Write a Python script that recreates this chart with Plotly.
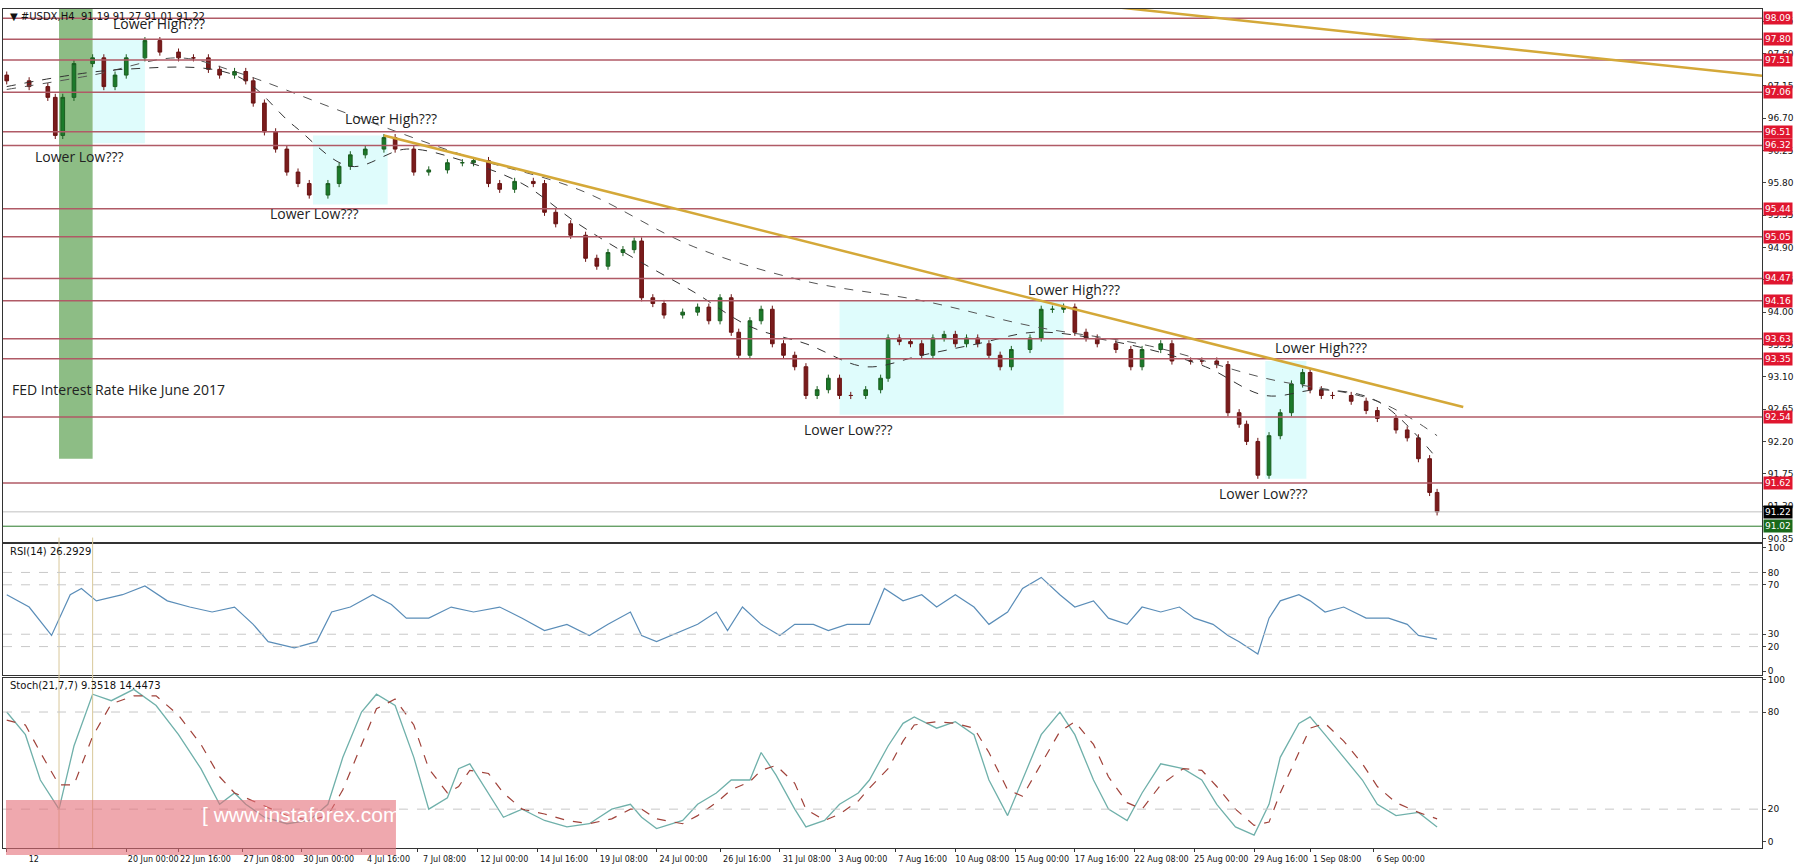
import plotly.graph_objects as go
from plotly.subplots import make_subplots

# ---- price closes (bar index, close) ----
bars = [0,6,11,13,15,18,23,26,29,32,37,41,46,50,54,57,61,64,66,69,72,75,78,81,86,89,92,96,101,104,109,113,118,122,125,129,132,136,141,144,147,151,155,158,161,165,168,170,173,176,181,185,188,191,194,196,199,202,205,208,211,214,217,220,223,226,230,234,236,239,242,245,248,251,254,257,260,263,266,269,274,277,280,283,286,289,292,297,301,304,309,312,317,320,324,327,330,332,335,338,341,344,347,349,352,355,360,364,367,372,375,378,381,383]
closes = [97.22,97.14,96.99,96.46,96.99,97.46,97.54,97.14,97.30,97.54,97.78,97.62,97.54,97.54,97.38,97.30,97.35,97.22,96.91,96.51,96.27,95.95,95.79,95.63,95.79,96.03,96.19,96.27,96.43,96.27,95.95,95.98,96.08,96.08,96.11,95.79,95.71,95.82,95.79,95.39,95.23,95.07,94.75,94.64,94.83,94.87,94.99,94.20,94.12,93.96,94.00,94.07,93.88,94.20,93.72,93.40,93.88,94.04,93.56,93.40,93.24,92.84,92.92,93.08,92.84,92.84,92.92,93.08,93.64,93.59,93.56,93.40,93.64,93.69,93.56,93.64,93.56,93.40,93.24,93.48,93.64,94.04,94.04,94.07,93.72,93.64,93.56,93.48,93.24,93.48,93.56,93.32,93.32,93.32,93.27,92.60,92.44,92.20,91.73,92.28,92.60,93.00,93.16,92.92,92.84,92.84,92.76,92.63,92.52,92.36,92.25,91.96,91.49,91.22]
first_open = 97.30

slow_bars = [0,23,46,61,92,122,153,184,214,245,275,306,337,367,383]
slow_ma = [97.10,97.30,97.54,97.35,96.75,96.19,95.71,94.91,94.43,94.16,93.80,93.53,93.08,92.76,92.28]
mid_bars = [0,31,61,77,92,107,122,138,153,168,184,199,214,230,245,260,275,291,306,321,337,352,367,383]
mid_ma = [97.14,97.38,97.30,96.59,96.03,96.27,96.11,95.79,95.23,94.75,94.28,93.80,93.56,93.24,93.40,93.56,93.72,93.64,93.48,93.24,92.84,92.92,92.76,91.96]

levels = [98.09,97.80,97.51,97.06,96.51,96.32,95.44,95.05,94.47,94.16,93.63,93.35,92.54,91.62]

rsi_bars = [0,6,12,17,20,24,31,37,43,49,55,61,66,70,77,83,87,92,98,103,107,113,119,125,132,138,144,150,156,161,167,170,174,181,185,190,193,197,202,207,211,216,220,225,231,235,240,245,249,254,259,263,268,272,277,282,286,291,295,300,304,309,314,318,323,327,330,335,338,341,346,349,353,358,364,370,375,378,383]
rsi = [62,52,29,62,67,57,62,69,57,52,48,52,38,24,19,24,48,52,62,54,43,43,52,48,52,43,33,38,29,38,48,29,24,33,38,48,33,52,38,29,38,38,33,38,38,67,57,62,52,62,52,38,48,67,76,62,52,57,43,38,52,48,52,43,38,29,24,14,43,57,62,57,48,52,43,43,38,29,26]

st_bars = [0,5,9,14,18,23,28,34,40,46,52,57,61,64,69,75,81,86,90,95,99,104,109,113,118,121,124,129,133,138,144,150,156,162,167,170,174,181,185,190,194,199,202,206,211,214,219,223,228,231,236,240,243,249,254,259,263,268,272,277,282,286,291,295,300,304,309,315,320,324,329,334,338,341,346,349,353,358,363,367,372,378,383]
st_main = [80,66,38,20,59,91,87,94,84,66,45,23,30,23,15,11,13,23,52,80,91,84,52,20,27,45,48,30,15,20,13,9,11,20,23,15,8,13,23,30,38,38,55,41,20,9,13,23,30,38,59,73,77,70,74,66,38,16,38,66,80,66,38,20,13,30,48,45,38,23,9,4,23,52,73,77,66,52,38,23,16,18,9]
st_sig = [75,72,55,35,35,65,85,90,90,78,60,40,30,27,22,16,13,16,32,60,82,88,72,45,30,34,44,42,30,20,17,13,11,14,20,20,14,11,16,24,32,37,44,47,36,20,13,17,25,33,45,62,72,74,73,70,55,32,28,48,68,74,60,40,24,20,35,45,44,34,20,10,12,30,55,70,73,62,48,34,24,18,14]

tick_bars = [0,32,46,63,79,95,110,126,142,158,174,191,207,222,238,254,270,286,302,318,334,349,366]
tick_text = ["12","20 Jun 00:00","22 Jun 16:00","27 Jun 08:00","30 Jun 00:00","4 Jul 16:00","7 Jul 08:00","12 Jul 00:00","14 Jul 16:00","19 Jul 08:00","24 Jul 00:00","26 Jul 16:00","31 Jul 08:00","3 Aug 00:00","7 Aug 16:00","10 Aug 08:00","15 Aug 00:00","17 Aug 16:00","22 Aug 08:00","25 Aug 00:00","29 Aug 16:00","1 Sep 08:00","6 Sep 00:00"]

notes = [("Lower High???",28,98.02),("Lower Low???",7,96.16),("Lower High???",90,96.70),("Lower Low???",70,95.38),
         ("Lower High???",273,94.32),("Lower Low???",213,92.36),("Lower High???",339,93.51),("Lower Low???",324,91.47),
         ("FED Interest Rate Hike June 2017",1,92.92)]
boxes = [(23,37,97.81,96.35),(82,102,96.46,95.50),(223,283,94.15,92.57),(337,348,93.32,91.68)]

opens = [first_open] + closes[:-1]
highs = [max(o, c) + 0.05 for o, c in zip(opens, closes)]
lows = [min(o, c) - 0.05 for o, c in zip(opens, closes)]

FONT = "DejaVu Sans"
fig = make_subplots(rows=3, cols=1, shared_xaxes=True, vertical_spacing=0.0)

for x0, x1, y0, y1 in boxes:
    fig.add_shape(type="rect", xref="x", yref="y", x0=x0, x1=x1, y0=y0, y1=y1,
                  fillcolor="#dffcfc", line_width=0, layer="below")
fig.add_shape(type="rect", xref="x", yref="y", x0=14, x1=23, y0=91.96, y1=98.4,
              fillcolor="#8dbd85", line_width=0, layer="below")
for xv in (14, 23):
    fig.add_shape(type="line", xref="x", yref="paper", x0=xv, x1=xv, y0=0, y1=0.37,
                  line=dict(color="#d8c89a", width=1))

def tag(y, txt, bg, yref="y"):
    fig.add_annotation(xref="paper", yref=yref, x=1.0, y=y, text=txt, showarrow=False, xanchor="left", xshift=1,
                       font=dict(color="white", size=9, family=FONT), bgcolor=bg, borderpad=1)

for lv in levels:
    fig.add_hline(y=lv, line=dict(color="#b05a66", width=1.5), row=1, col=1)
    tag(lv, format(lv, ".2f"), "#e0162f")
fig.add_hline(y=91.22, line=dict(color="#c0c0c0", width=1), row=1, col=1)
tag(91.22, "91.22", "black")
fig.add_hline(y=91.02, line=dict(color="#2a7a2a", width=1), row=1, col=1)
tag(91.02, "91.02", "#1a6a1a")

fig.add_trace(go.Scatter(x=slow_bars, y=slow_ma, mode="lines", line=dict(color="#555", width=1, dash="dash", shape="spline")), 1, 1)
fig.add_trace(go.Scatter(x=mid_bars, y=mid_ma, mode="lines", line=dict(color="#333", width=1, dash="dash", shape="spline")), 1, 1)
fig.add_trace(go.Candlestick(x=bars, open=opens, high=highs, low=lows, close=closes,
                             increasing=dict(line=dict(color="#1b5e20", width=1), fillcolor="#1b7a2a"),
                             decreasing=dict(line=dict(color="#6b1414", width=1), fillcolor="#7a1c1c"),
                             whiskerwidth=0), 1, 1)
fig.add_shape(type="line", xref="x", yref="y", x0=101, y0=96.46, x1=390, y1=92.68, line=dict(color="#d4a838", width=2.5))
fig.add_shape(type="line", xref="x", yref="y", x0=289, y0=98.29, x1=470, y1=97.29, line=dict(color="#d4a838", width=2.5))

for t, xb, yp in notes:
    fig.add_annotation(x=xb, y=yp, xref="x", yref="y", text=t, showarrow=False, xanchor="left",
                       font=dict(size=14, family="Open Sans", color="#222"))

fig.add_trace(go.Scatter(x=rsi_bars, y=rsi, mode="lines", line=dict(color="#5a8db8", width=1.2)), 2, 1)
for lv in (80, 70, 30, 20):
    fig.add_hline(y=lv, line=dict(color="#c8c8c8", width=1, dash="dash"), row=2, col=1)
fig.add_trace(go.Scatter(x=st_bars, y=st_main, mode="lines", line=dict(color="#6fb0aa", width=1.3)), 3, 1)
fig.add_trace(go.Scatter(x=st_bars, y=st_sig, mode="lines", line=dict(color="#a0423a", width=1.2, dash="dash")), 3, 1)
for lv in (80, 20):
    fig.add_hline(y=lv, line=dict(color="#c8c8c8", width=1, dash="dash"), row=3, col=1)

fig.add_annotation(xref="paper", yref="paper", x=0.003, y=1.0, text="▼ #USDX,H4  91.19 91.27 91.01 91.22",
                   showarrow=False, xanchor="left", yanchor="top", font=dict(size=10, family=FONT, color="#111"))
fig.add_annotation(xref="paper", yref="paper", x=0.003, y=0.3623, text="RSI(14) 26.2929",
                   showarrow=False, xanchor="left", yanchor="top", font=dict(size=10, family=FONT, color="#111"))
fig.add_annotation(xref="paper", yref="paper", x=0.003, y=0.2026, text="Stoch(21,7,7) 9.3518 14.4473",
                   showarrow=False, xanchor="left", yanchor="top", font=dict(size=10, family=FONT, color="#111"))
fig.add_shape(type="rect", xref="paper", yref="paper", x0=0.0017, x1=0.2234, y0=-0.0083, y1=0.0572,
              fillcolor="rgba(228,110,120,0.6)", line_width=0)
fig.add_annotation(xref="paper", yref="paper", x=0.112, y=0.024, text="[ www.instaforex.com ]", showarrow=False,
                   font=dict(size=21, family="Liberation Sans", color="white"))

axline = dict(showline=True, linecolor="#333", linewidth=1, mirror=True, showgrid=False, zeroline=False)
fig.update_xaxes(range=[-1, 470], rangeslider_visible=False, **axline)
fig.update_xaxes(tickvals=tick_bars, ticktext=tick_text, ticks="outside", ticklen=3, tickcolor="#333", tickangle=0,
                 ticklabelshift=27, tickfont=dict(size=8, family=FONT, color="#111"), row=3, col=1)
fig.update_yaxes(side="right", ticks="outside", ticklen=3, tickfont=dict(size=9, family=FONT, color="#111"), **axline)
fig.update_yaxes(range=[90.80, 98.22], tickvals=[90.85,91.30,91.75,92.20,92.65,93.10,93.55,94.00,94.45,94.90,95.35,95.80,96.25,96.70,97.15,97.60,98.05],
                 tickformat=".2f", domain=[0.3647, 1], row=1, col=1)
fig.update_yaxes(range=[-3, 103], tickvals=[0,20,30,70,80,100], domain=[0.2062, 0.3623], row=2, col=1)
fig.update_yaxes(range=[-4, 101], tickvals=[0,20,80,100], domain=[0, 0.2026], row=3, col=1)

fig.update_layout(width=1800, height=868, margin=dict(l=3, r=38, t=9, b=20, autoexpand=False), showlegend=False,
                  paper_bgcolor="white", plot_bgcolor="white")
fig.write_html("out.html", config={"displayModeBar": False})

with open("out.html", encoding="utf-8") as f:
    html = f.read()
html = html.replace("<head>", "<head><style>html,body{margin:0;padding:0;overflow:hidden;}</style>", 1)
with open("out.html", "w", encoding="utf-8") as f:
    f.write(html)
